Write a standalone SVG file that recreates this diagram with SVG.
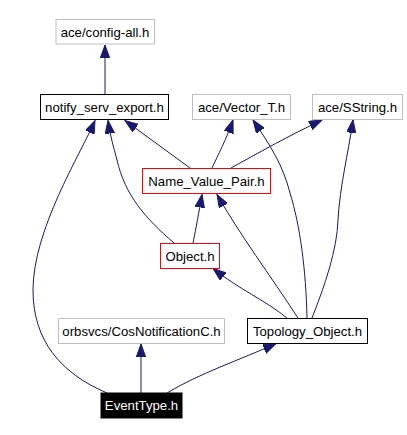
<svg xmlns="http://www.w3.org/2000/svg" width="407" height="435" viewBox="0 0 407 435">
<defs>
<style>
.n rect{fill:#fff;stroke-width:1}
.g rect{stroke:#bfbfbf}
.b rect{stroke:#000}
.r rect{stroke:#ff0000}
.n text{font-family:"Liberation Sans",Arial,sans-serif;font-size:13.2px;text-anchor:middle;fill:#000}
#eventtype rect{fill:#000;stroke:#000}
#eventtype text{fill:#fff}
.e path{fill:none;stroke:#191970;stroke-width:1;marker-end:url(#ah)}
</style>
<marker id="ah" markerUnits="userSpaceOnUse" markerWidth="14" markerHeight="10" refX="13" refY="4.7" orient="auto">
<path d="M0,0 L13,4.7 L0,9.4 Z" fill="#191970" stroke="#191970" stroke-width="1"/>
</marker>
</defs>
<rect width="407" height="435" fill="#fff"/>
<g id="edges" class="e">
<path d="M105,94 L105,45"/>
<path d="M107,393 C60,373 33,340 33,290 C33,230 80,155 95,120.5"/>
<path d="M174,243 C145,218 125,195 117,160 C113,145 110,135 108,120.5"/>
<path d="M190,168 L125,120.5"/>
<path d="M212,168 C218,155 226,140 233,120"/>
<path d="M231,168 C260,152 290,135 322,120"/>
<path d="M307,318 C306,270 300,225 290,193 C283,165 270,145 253,120"/>
<path d="M312,318 C325,285 337,250 338,220 C340,185 348,155 353,120"/>
<path d="M193,243 C196,228 199,212 202,194.5"/>
<path d="M298,318 C270,275 240,235 217,194.5"/>
<path d="M287,318 C265,300 240,290 213,268.5"/>
<path d="M141,393 L141,344"/>
<path d="M167,393 C200,373 240,360 276,343.5"/>
</g>
<g id="config-all" class="n g"><rect x="56" y="19.5" width="98.5" height="24.5"/><text x="105" y="36.5">ace/config-all.h</text></g>
<g id="notify_serv_export" class="n b"><rect x="40.5" y="94.5" width="128" height="25"/><text x="104.5" y="111.8">notify_serv_export.h</text></g>
<g id="vector_t" class="n g"><rect x="192.5" y="94.5" width="98" height="25"/><text x="241.5" y="111.8">ace/Vector_T.h</text></g>
<g id="sstring" class="n g"><rect x="312.5" y="94.5" width="90" height="25"/><text x="357.5" y="111.8">ace/SString.h</text></g>
<g id="name_value_pair" class="n r"><rect x="142.5" y="168.5" width="128" height="25"/><text x="206.5" y="185.8">Name_Value_Pair.h</text></g>
<g id="object" class="n r"><rect x="160.5" y="243.5" width="59" height="25"/><text x="190" y="260.8">Object.h</text></g>
<g id="cosnotification" class="n g"><rect x="58.5" y="318.5" width="166" height="25"/><text x="141.5" y="335.8">orbsvcs/CosNotificationC.h</text></g>
<g id="topology_object" class="n b"><rect x="247.5" y="318.5" width="120" height="25"/><text x="307.5" y="335.8">Topology_Object.h</text></g>
<g id="eventtype" class="n"><rect x="101" y="393" width="81" height="25"/><text x="141.5" y="410.3">EventType.h</text></g>
</svg>
